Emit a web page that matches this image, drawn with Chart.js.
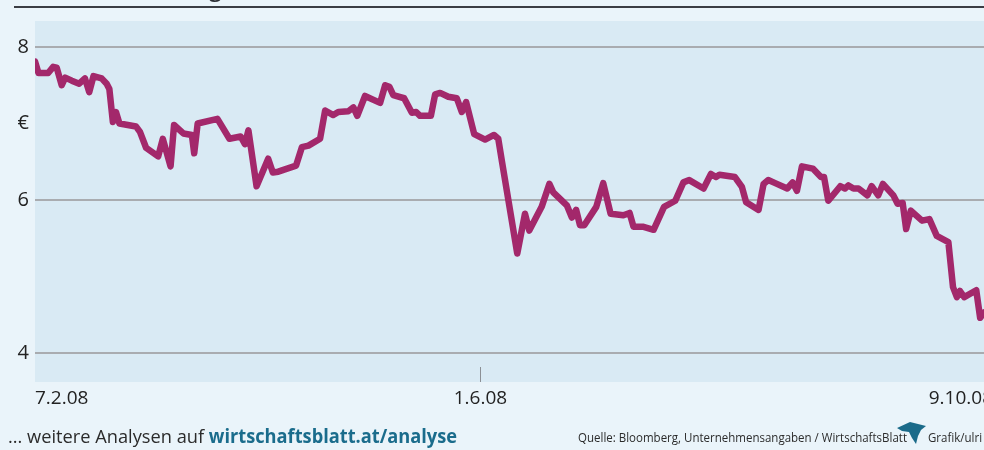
<!DOCTYPE html>
<html>
<head>
<meta charset="utf-8">
<script src="https://cdn.jsdelivr.net/npm/chart.js@4"></script>
<style>
  html, body { margin: 0; padding: 0; background: #eaf4fa; }
  #wrap { width: 984px; height: 450px; }
</style>
</head>
<body>
<div id="wrap"><canvas id="kurs" width="984" height="450"></canvas></div>
<script>
// data: days after 7.2.08 and share price in euro
const days = [0, 0.9, 3.4, 4.7, 5.6, 6.9, 7.8, 9.5, 11.4, 12.9, 14.0, 15.1, 17.2, 18.5, 19.2, 20.1, 20.9, 21.8, 26.1, 27.1,
  28.7, 31.8, 33.0, 35.0, 35.9, 38.3, 40.5, 41.1, 42.0, 47.1, 50.2, 53.1, 54.2, 55.1, 57.2, 60.2, 61.4, 62.8, 67.4, 68.9,
  70.6, 73.6, 74.9, 77.0, 78.3, 80.9, 82.2, 83.2, 85.2, 89.1, 90.4, 91.5, 92.5, 95.3, 97.3, 98.4, 99.4, 102.2, 103.3, 104.6,
  106.7, 108.9, 110.2, 111.3, 113.4, 116.2, 118.5, 119.6, 120.5, 124.5, 126.5, 127.6, 130.8, 132.8, 133.8, 137.3, 138.6, 139.7, 140.7, 141.8,
  144.9, 146.7, 148.6, 151.9, 153.5, 154.5, 156.9, 159.7, 162.4, 165.3, 167.4, 168.9, 172.6, 174.5, 175.8, 176.7, 180.7, 182.5, 183.6, 186.8,
  188.1, 189.3, 191.1, 194.2, 195.6, 196.7, 198.0, 200.8, 202.9, 203.7, 204.8, 207.9, 209.1, 210.0, 211.3, 212.6, 214.9, 216.0, 217.7, 218.9,
  221.6, 222.7, 224.0, 224.9, 226.1, 229.0, 230.9, 232.8, 235.8, 237.0, 238.0, 238.8, 239.9, 243.0, 244.0, 245];
const prices = [7.81, 7.66, 7.66, 7.74, 7.73, 7.50, 7.60, 7.56, 7.52, 7.59, 7.41, 7.62, 7.59, 7.52, 7.45, 7.02, 7.15, 7.00, 6.96, 6.89,
  6.68, 6.57, 6.80, 6.44, 6.98, 6.87, 6.85, 6.61, 7.00, 7.06, 6.80, 6.83, 6.73, 6.91, 6.18, 6.54, 6.36, 6.37, 6.45, 6.69,
  6.71, 6.80, 7.17, 7.11, 7.15, 7.16, 7.21, 7.10, 7.36, 7.27, 7.50, 7.48, 7.37, 7.33, 7.14, 7.15, 7.10, 7.10, 7.38, 7.40,
  7.35, 7.33, 7.15, 7.28, 6.86, 6.79, 6.85, 6.80, 6.52, 5.30, 5.82, 5.60, 5.91, 6.21, 6.10, 5.93, 5.77, 5.87, 5.67, 5.67,
  5.91, 6.22, 5.82, 5.80, 5.83, 5.65, 5.65, 5.61, 5.91, 5.99, 6.23, 6.26, 6.15, 6.34, 6.30, 6.33, 6.30, 6.17, 5.97, 5.87,
  6.21, 6.26, 6.22, 6.15, 6.23, 6.12, 6.44, 6.41, 6.30, 6.30, 5.99, 6.18, 6.15, 6.19, 6.15, 6.15, 6.06, 6.18, 6.06, 6.21,
  6.06, 5.95, 5.96, 5.62, 5.86, 5.73, 5.75, 5.53, 5.45, 4.86, 4.73, 4.81, 4.73, 4.82, 4.46, 4.53];

const xTickDays = [0, 115, 245];
const xTickLabels = ['7.2.08', '1.6.08', '9.10.08'];
const yGridValues = [4, 6, 8];
const yUnitValue = 7; // "€" sits at 7

const FONT = '"Open Sans", "DejaVu Sans", sans-serif';

const backdrop = {
  id: 'backdrop',
  beforeDraw(chart) {
    const c = chart.ctx, a = chart.chartArea;
    c.save();
    c.fillStyle = '#eaf4fa';
    c.fillRect(0, 0, chart.width, chart.height);
    c.fillStyle = '#d9eaf4';
    c.fillRect(a.left, a.top, a.right - a.left, a.bottom - a.top);
    // cut-off headline and rule at the top
    c.fillStyle = '#2a2d33';
    c.font = '600 22px ' + FONT;
    c.textBaseline = 'alphabetic';
    c.fillText('Kursentwicklung', 44, -3);
    c.fillStyle = '#3a3d44';
    c.fillRect(14, 6, chart.width - 14, 2);
    c.restore();
  },
  afterDraw(chart) {
    const c = chart.ctx, a = chart.chartArea, x = chart.scales.x;
    c.save();
    // small tick for the middle date
    c.strokeStyle = '#8c9095';
    c.lineWidth = 1;
    const mx = Math.round(x.getPixelForValue(xTickDays[1])) + 0.5;
    c.beginPath(); c.moveTo(mx, a.bottom - 15); c.lineTo(mx, a.bottom); c.stroke();

    // date labels
    c.fillStyle = '#222';
    c.font = '19px ' + FONT;
    c.textBaseline = 'alphabetic';
    xTickDays.forEach((d, i) => {
      c.textAlign = i === 0 ? 'left' : (i === xTickDays.length - 1 ? 'right' : 'center');
      let px = x.getPixelForValue(d);
      if (i === xTickDays.length - 1) px += 9;
      c.fillText(xTickLabels[i], px, 404);
    });

    // footer left
    c.textAlign = 'left';
    const t1 = '... weitere Analysen auf ', t2 = 'wirtschaftsblatt.at/analyse';
    c.font = '19px ' + FONT;
    const w1 = c.measureText(t1).width;
    c.font = '700 19px ' + FONT;
    const w2 = c.measureText(t2).width;
    const sx = 449 / (w1 + w2);
    c.save();
    c.translate(8, 443);
    c.scale(sx, 1);
    c.font = '19px ' + FONT;
    c.fillStyle = '#2b2b2b';
    c.fillText(t1, 0, 0);
    c.font = '700 19px ' + FONT;
    c.fillStyle = '#1a6c8c';
    c.fillText(t2, w1, 0);
    c.restore();

    // footer right: source, logo, credit
    const src = 'Quelle: Bloomberg, Unternehmensangaben / WirtschaftsBlatt';
    c.font = '13px ' + FONT;
    const sw = c.measureText(src).width;
    const s2 = 329 / sw;
    c.save();
    c.translate(578, 442);
    c.scale(s2, 1);
    c.fillStyle = '#2b2b2b';
    c.fillText(src, 0, 0);
    c.restore();
    c.save();
    c.translate(928, 442);
    c.scale(s2, 1);
    c.fillStyle = '#2b2b2b';
    c.fillText('Grafik/ulri', 0, 0);
    c.restore();

    c.fillStyle = '#1b6b8a';
    c.beginPath();
    c.moveTo(897, 428);
    c.lineTo(910, 422);
    c.lineTo(926, 426);
    c.lineTo(921, 430);
    c.lineTo(918, 436);
    c.lineTo(916, 444);
    c.lineTo(912, 438);
    c.lineTo(909, 432);
    c.lineTo(902, 431);
    c.closePath();
    c.fill();
    c.restore();
  }
};

new Chart(document.getElementById('kurs').getContext('2d'), {
  type: 'line',
  data: {
    datasets: [{
      label: 'Kurs',
      data: days.map((d, i) => ({ x: d, y: prices[i] })),
      borderColor: '#a3286b',
      borderWidth: 6.5,
      borderJoinStyle: 'round',
      borderCapStyle: 'round',
      pointRadius: 0,
      tension: 0,
      fill: false
    }]
  },
  options: {
    responsive: false,
    animation: false,
    layout: { padding: { top: 21, bottom: 68, left: 0, right: 0 } },
    plugins: {
      legend: { display: false },
      tooltip: { enabled: false }
    },
    scales: {
      x: {
        type: 'linear',
        display: false,
        min: xTickDays[0],
        max: xTickDays[xTickDays.length - 1]
      },
      y: {
        min: 3.62,
        max: 8.34,
        afterFit: (scale) => { scale.width = 35; },
        afterBuildTicks: (scale) => {
          scale.ticks = yGridValues.concat([yUnitValue]).sort().map(v => ({ value: v }));
        },
        border: { display: false },
        grid: {
          drawTicks: false,
          lineWidth: 2,
          color: (ctx) => yGridValues.includes(ctx.tick.value) ? '#a9acb0' : 'rgba(0,0,0,0)'
        },
        ticks: {
          padding: 6,
          color: '#222',
          font: { family: FONT, size: 20 },
          callback: (v) => v === yUnitValue ? '€' : String(v)
        }
      }
    }
  },
  plugins: [backdrop]
});
</script>
</body>
</html>
